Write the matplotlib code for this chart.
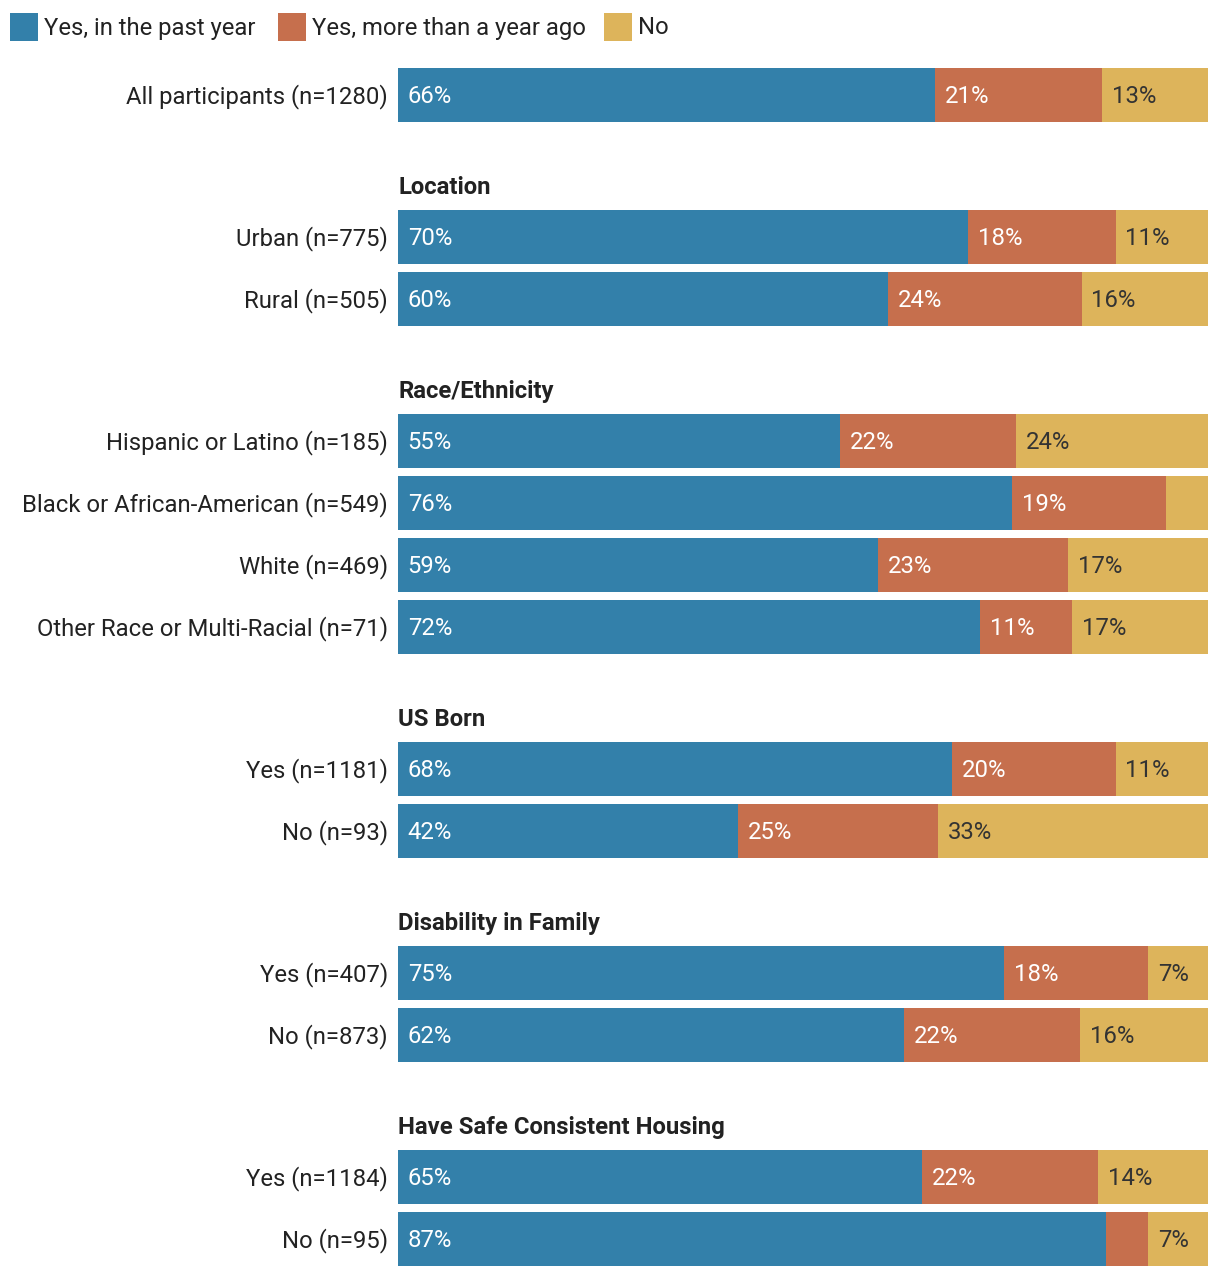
import matplotlib.pyplot as plt
from matplotlib.patches import Rectangle

plt.rcParams['font.family'] = ['Roboto', 'DejaVu Sans']

# groups of rows (header, row labels)
groups = [
    (None, ["All participants (n=1280)"]),
    ("Location", ["Urban (n=775)", "Rural (n=505)"]),
    ("Race/Ethnicity", ["Hispanic or Latino (n=185)", "Black or African-American (n=549)",
                        "White (n=469)", "Other Race or Multi-Racial (n=71)"]),
    ("US Born", ["Yes (n=1181)", "No (n=93)"]),
    ("Disability in Family", ["Yes (n=407)", "No (n=873)"]),
    ("Have Safe Consistent Housing", ["Yes (n=1184)", "No (n=95)"]),
]

series = ["Yes, in the past year", "Yes, more than a year ago", "No"]
# percentages (labels are rounded)
past_year = [66.4, 70.4, 60.4, 54.6, 75.8, 59.3, 71.9, 68.4, 42.0, 74.8, 62.4, 64.7, 87.4]
over_year = [20.6, 18.2, 23.9, 21.7, 19.0, 23.4, 11.3, 20.2, 24.7, 17.8, 21.7, 21.7, 5.2]
no_vals = [13.1, 11.4, 15.6, 23.7, 5.2, 17.3, 16.8, 11.4, 33.3, 7.4, 15.8, 13.6, 7.4]

colors = ["#3380AA", "#C66F4D", "#DDB45B"]
text_colors = ["white", "white", "#333333"]

W, H = 1220, 1278
fig = plt.figure(figsize=(W / 100, H / 100), dpi=100)
# axis spans the bar area horizontally, whole figure vertically (y in pixels)
ax = fig.add_axes([398 / W, 0, 810 / W, 1])
ax.set_xlim(0, 100)
ax.set_ylim(H, 0)
ax.axis("off")

fs = 17.2
bar_h = 54
dy = 1.3  # text sits slightly below the geometric centre

# row positions (pixel centres), computed from the layout
y = 95
row_y = []
header_y = []
for gi, (header, labels) in enumerate(groups):
    if header is not None:
        y += 91
        header_y.append((header, y))
        y += 51
    for li, lab in enumerate(labels):
        if li > 0:
            y += 62
        row_y.append((lab, y))

values = list(zip(past_year, over_year, no_vals))
for (lab, yc), vals in zip(row_y, values):
    total = sum(vals)
    left = 0
    for k, v in enumerate(vals):
        w = v / total * 100
        ax.barh(yc, w, left=left, height=bar_h, color=colors[k], linewidth=0)
        if v >= 6.5:
            ax.text(left + 1.2, yc + dy, f"{v:.0f}%", color=text_colors[k], fontsize=fs,
                    va="center", ha="left")
        left += w
    ax.text(-1.25, yc + dy, lab, color="#222222", fontsize=fs, va="center", ha="right")

for header, yc in header_y:
    ax.text(0, yc + dy, header, color="#222222", fontsize=fs, fontweight="bold",
            va="center", ha="left")

# legend
leg_x = [10, 278, 604]
for k, name in enumerate(series):
    fig.patches.append(Rectangle((leg_x[k] / W, 1 - 41 / H), 28 / W, 28 / H,
                                 transform=fig.transFigure, color=colors[k], linewidth=0))
    fig.text((leg_x[k] + 34) / W, 1 - 28 / H, name, color="#222222", fontsize=fs,
             va="center", ha="left")

fig.savefig("out.png", dpi=100)
